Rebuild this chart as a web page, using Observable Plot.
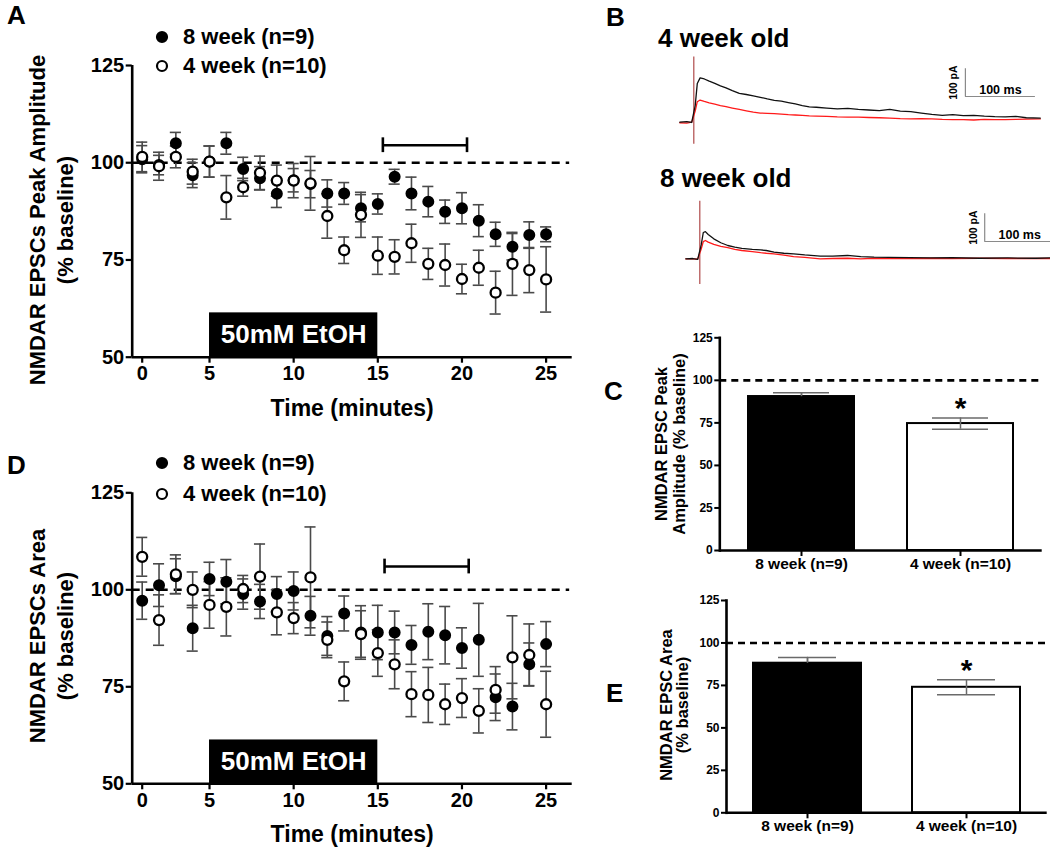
<!DOCTYPE html>
<html><head><meta charset="utf-8">
<script src="https://cdn.jsdelivr.net/npm/d3@7"></script>
<script src="https://cdn.jsdelivr.net/npm/@observablehq/plot@0.6"></script>
<style>
html,body{margin:0;padding:0;background:#fff;overflow:hidden;}
#fig{position:relative;width:1050px;height:847px;font-family:"Liberation Sans",Arial,sans-serif;font-weight:bold;color:#000;overflow:hidden;}
.rot{position:absolute;white-space:nowrap;line-height:1;transform:translate(-50%,-50%) rotate(-90deg);}
.lbl{position:absolute;white-space:nowrap;line-height:1;}
svg{overflow:visible;}
</style></head><body><div id="fig"></div>
<script>
const FONT = '"Liberation Sans", Arial, sans-serif';

// ---------- DATA ----------
const minutes = [1,2,3,4,5,6,7,8,9,10,11,12,13,14,15,16,17,18,19,20,21,22,23,24,25];
const timeTicks = [1,5,10,15,20,25];
const timeTickLabels = ["0","5","10","15","20","25"];
const ethanolMinutes = [5, 15];
const ethanolLabel = "50mM EtOH";
const groups = ["8 week (n=9)", "4 week (n=10)"];

// Panel A: NMDAR EPSC peak amplitude (% baseline)
const amp8wk    = [100.9,99.4,105.0,96.8,100.3,105.0,98.4,96.0,92.0,95.5,94.5,92.1,92.1,88.3,89.4,96.4,92.1,90.0,87.4,88.3,85.1,81.6,78.4,81.4,81.6];
const amp8wkSem = [3.5,2.5,2.8,3.2,4.0,2.8,3.0,3.0,3.5,3.0,3.5,3.5,2.8,3.5,2.6,1.9,4.2,3.9,3.0,4.0,4.1,3.1,3.4,3.4,1.9];
const amp4wk    = [101.5,99.1,101.5,97.7,100.3,91.1,93.7,97.4,95.4,95.4,94.7,86.3,77.5,86.6,76.1,75.8,79.3,74.0,73.7,70.1,73.0,66.6,74.0,72.4,70.0];
const amp4wkSem = [3.8,3.6,2.8,3.2,4.0,5.6,2.3,4.3,4.0,4.4,6.9,5.7,3.4,5.8,4.8,4.4,4.9,4.0,5.4,3.8,4.5,5.5,8.1,5.8,8.4];
const ampBracket = [15.3, 20.3];
const ampBracketLevel = 104.5;

// Panel D: NMDAR EPSC area (% baseline)
const area8wk    = [97.2,101.2,103.5,90.1,102.8,102.1,98.9,97.0,98.9,99.7,93.3,88.1,93.9,89.0,89.0,89.0,85.8,89.2,88.3,85.0,87.1,72.3,69.9,80.8,86.0];
const area8wkSem = [4.8,5.5,4.5,5.9,4.3,5.7,3.9,4.4,4.5,4.9,5.0,5.0,4.5,6.9,7.0,5.5,5.0,7.2,7.4,5.2,9.4,6.0,6.0,5.5,5.8];
const area4wk    = [108.5,92.2,104.0,100.0,96.1,95.6,100.2,103.4,94.2,92.7,103.2,87.1,76.4,88.6,83.7,80.8,73.1,72.9,70.5,72.1,68.8,74.2,82.6,83.2,70.5];
const area4wkSem = [5.0,6.5,5.0,4.6,6.0,7.5,3.5,8.4,5.8,4.0,13.0,4.6,5.0,6.0,6.0,6.3,5.8,7.1,5.2,5.0,5.7,6.0,10.7,8.0,8.5];
const areaBracket = [15.4, 20.4];
const areaBracketLevel = 106;

// Panel C / E: summary bars (% baseline)
const peakMean = [90.4, 74.6];
const peakSem  = [2.3, 3.3];
const areaMean = [88.0, 73.9];
const areaSem  = [3.5, 4.4];

// Panel B: example traces (time in ms from stimulus, current in pA)
const t4wk      = [-20,-10,-3,2,5,9,15,22,30,38,46,55,65,75,85,95,105,115,125,135,145,155,165,175,190,205,220,235,250,265,280,295,310,325,340,355,370,385,400,415,430,445,460,475,495];
const ctrl4wk   = [0,2,-1,60,140,160,156,148,140,131,124,114,104,100,95,90,84,79,76,71,66,60,55,54,51,48,50,46,44,42,46,40,38,33,28,25,27,24,25,22,20,19,21,16,15];
const etoh4wk   = [-2,-3,0,40,74,80,75,70,65,60,56,51,46,41,36,33,32,31,29,27,26,25,23,22,21,19,18,18,17,16,15,13,12,13,12,10,9,9,8,10,9,9,10,11,12];
const t8wk      = [-20,-10,-3,2,5,8,12,20,30,40,50,60,75,87,95,106,120,134,150,172,190,211,230,249,270,300,330,360,400,440,480,500];
const ctrl8wk   = [0,1,-2,50,95,98,88,72,58,48,42,38,34,32,30,24,20,18,14,10,10,12,8,6,5,4,3,4,2,3,2,3];
const etoh8wk   = [0,0,-1,35,62,66,60,52,45,40,34,30,26,22,20,18,13,8,5,0,1,2,0,2,1,1,2,1,2,1,1,1];
const scaleBarPA = 100, scaleBarMS = 100;

// ---------- HELPERS ----------
const fig = document.getElementById("fig");
function place(node, left, top) {
  node.style.position = "absolute";
  node.style.left = left + "px";
  node.style.top = top + "px";
  fig.appendChild(node);
}
function html(cls, text, css) {
  const d = document.createElement("div");
  d.className = cls; d.textContent = text;
  Object.assign(d.style, css);
  fig.appendChild(d);
  return d;
}
const baseStyle = {fontFamily: FONT, fontWeight: "bold", background: "transparent", overflow: "visible", color: "black"};
const series = (vals, sems) => minutes.map((t, i) => ({t, v: vals[i], s: sems[i]}));

function timeCourse(cfg) {
  const f = series(cfg.v8, cfg.s8), o = series(cfg.v4, cfg.s4);
  const xmin = 0.406, xmax = 26.55, dashEnd = 26.4, cap = 0.33;
  const errCol = "#4a4a4a";
  const err = (data) => [
    Plot.ruleX(data, {x: "t", y1: d => d.v - d.s, y2: d => d.v + d.s, stroke: errCol, strokeWidth: 1.6}),
    Plot.ruleY(data, {y: d => d.v + d.s, x1: d => d.t - cap, x2: d => d.t + cap, stroke: errCol, strokeWidth: 1.6}),
    Plot.ruleY(data, {y: d => d.v - d.s, x1: d => d.t - cap, x2: d => d.t + cap, stroke: errCol, strokeWidth: 1.6})
  ];
  return Plot.plot({
    width: 600, height: cfg.height,
    marginLeft: 131.7, marginRight: 28.3, marginTop: cfg.mt, marginBottom: cfg.mb,
    style: baseStyle,
    x: {domain: [xmin, xmax], label: null},
    y: {domain: [50, 125], label: null},
    marks: [
      Plot.rect([ethanolMinutes], {x1: d => d[0], x2: d => d[1], y1: 50, y2: cfg.boxTop, fill: "black"}),
      Plot.text([ethanolLabel], {x: (ethanolMinutes[0] + ethanolMinutes[1]) / 2, y: (50 + cfg.boxTop) / 2, text: d => d, fill: "white", fontSize: 26, lineAnchor: "middle"}),
      Plot.ruleY([100], {x1: xmin, x2: dashEnd, stroke: "black", strokeWidth: 2.6, strokeDasharray: "8,6"}),
      Plot.ruleY([cfg.bracketY], {x1: cfg.bracket[0], x2: cfg.bracket[1], stroke: "black", strokeWidth: 2.6}),
      Plot.ruleX(cfg.bracket, {y1: cfg.bracketY - 1.9, y2: cfg.bracketY + 1.9, stroke: "black", strokeWidth: 2.6}),
      ...err(f), ...err(o),
      Plot.dot(f, {x: "t", y: "v", r: 5, fill: "black", stroke: "black", strokeWidth: 2}),
      Plot.dot(o, {x: "t", y: "v", r: 5, fill: "white", stroke: "black", strokeWidth: 2.3}),
      Plot.ruleX([xmin], {y1: 50, y2: 125, stroke: "black", strokeWidth: 2.6}),
      Plot.ruleY([50], {stroke: "black", strokeWidth: 2.6}),
      Plot.axisY({ticks: [50, 75, 100, 125], tickSize: 6, tickPadding: 2, fontSize: 20, strokeWidth: 2.2, label: null}),
      Plot.axisX({ticks: timeTicks, tickFormat: d => timeTickLabels[timeTicks.indexOf(d)], tickSize: 6, tickPadding: 3, fontSize: 20, strokeWidth: 2.2, label: null}),
      Plot.text(["Time (minutes)"], {frameAnchor: "bottom", dy: 51, text: d => d, fontSize: 23, lineAnchor: "middle"})
    ]
  });
}

function tracePlot(cfg) {
  const ctrl = cfg.t.map((t, i) => ({t, pA: cfg.ctrl[i]}));
  const etoh = cfg.t.map((t, i) => ({t, pA: cfg.etoh[i]}));
  const [bx, by] = cfg.bar;
  return Plot.plot({
    width: 420, height: 120,
    marginLeft: cfg.ml, marginRight: cfg.mr, marginTop: cfg.mt, marginBottom: cfg.mb,
    style: baseStyle,
    x: {domain: [-20, 510], axis: null},
    y: {domain: [-100, 250], axis: null},
    marks: [
      Plot.ruleX([0], {y1: cfg.stim[0], y2: cfg.stim[1], stroke: "#b04a4a", strokeWidth: 1.2}),
      Plot.line(etoh, {x: "t", y: "pA", stroke: "#ff1a1a", strokeWidth: 1.3}),
      Plot.line(ctrl, {x: "t", y: "pA", stroke: "#111", strokeWidth: 1.3}),
      Plot.ruleX([bx], {y1: by, y2: by + scaleBarPA, stroke: "#8a8a8a", strokeWidth: 1.2}),
      Plot.ruleY([by], {x1: bx, x2: bx + scaleBarMS, stroke: "#8a8a8a", strokeWidth: 1.2}),
      Plot.text([`${scaleBarPA} pA`], {x: bx, y: by + scaleBarPA / 2, text: d => d, rotate: -90, dx: -8, fontSize: 10.5, lineAnchor: "bottom"}),
      Plot.text([`${scaleBarMS} ms`], {x: bx + scaleBarMS / 2, y: by, text: d => d, dy: -2, fontSize: 12.5, lineAnchor: "bottom"})
    ]
  });
}

function barPlot(cfg) {
  const data = groups.map((g, i) => ({g, m: cfg.mean[i], s: cfg.sem[i]}));
  const errCol = "#6a6a6a";
  const barFill = (d, i) => i === 0 ? "black" : "white";
  return Plot.plot({
    width: 450, height: cfg.height,
    marginLeft: cfg.ml, marginRight: cfg.mr, marginTop: cfg.mt, marginBottom: cfg.mb,
    style: baseStyle,
    x: {domain: groups, paddingInner: cfg.pi, paddingOuter: cfg.po, label: null},
    y: {domain: [0, 125], label: null},
    marks: [
      Plot.ruleY([100], {stroke: "black", strokeWidth: 2.6, strokeDasharray: "7,5"}),
      Plot.barY(data, {x: "g", y: "m", fill: barFill, stroke: "black", strokeWidth: 2}),
      Plot.ruleX(data, {x: "g", y1: d => d.m - d.s, y2: d => d.m + d.s, stroke: errCol, strokeWidth: 1.5}),
      Plot.tickY(data, {x: "g", y: d => d.m + d.s, stroke: errCol, strokeWidth: 1.5, insetLeft: 25, insetRight: 25}),
      Plot.tickY(data, {x: "g", y: d => d.m - d.s, stroke: errCol, strokeWidth: 1.5, insetLeft: 25, insetRight: 25}),
      Plot.barY(data, {filter: (d, i) => i === 0, x: "g", y: "m", fill: "black", stroke: "black", strokeWidth: 2}),
      Plot.ruleX(data, {filter: (d, i) => i === 0, x: "g", y1: "m", y2: d => d.m + d.s, stroke: errCol, strokeWidth: 1.5}),
      Plot.text(data, {filter: (d, i) => i === 1, x: "g", y: d => d.m + d.s, text: () => "*", fontSize: 30, lineAnchor: "bottom", dy: cfg.starDy}),
      Plot.frame({anchor: "left", stroke: "black", strokeWidth: 2.6}),
      Plot.ruleY([0], {stroke: "black", strokeWidth: 2.6}),
      Plot.axisY({ticks: [0, 25, 50, 75, 100, 125], tickSize: 5, tickPadding: 2, fontSize: 12, strokeWidth: 2, label: null}),
      Plot.axisX({tickSize: 6, tickPadding: 1, fontSize: 15.5, strokeWidth: 2, label: null})
    ]
  });
}

// ---------- PANEL A ----------
place(timeCourse({v8: amp8wk, s8: amp8wkSem, v4: amp4wk, s4: amp4wkSem, height: 430, mt: 65, mb: 73.3,
  bracket: ampBracket, bracketY: ampBracketLevel, boxTop: 61.4}), 0, 0);
// ---------- PANEL D ----------
place(timeCourse({v8: area8wk, s8: area8wkSem, v4: area4wk, s4: area4wkSem, height: 417, mt: 62.3, mb: 63.7,
  bracket: areaBracket, bracketY: areaBracketLevel, boxTop: 61.3}), 0, 430);

// ---------- PANEL B ----------
place(tracePlot({t: t4wk, ctrl: ctrl4wk, etoh: etoh4wk, ml: 39.3, mr: 9.7, mt: 12.45, mb: 10.6,
  stim: [-80, 235], bar: [388, 92.8]}), 640, 40);
place(tracePlot({t: t8wk, ctrl: ctrl8wk, etoh: etoh8wk, ml: 45.3, mr: 3.7, mt: 9.05, mb: 14,
  stim: [-93, 208], bar: [407, 62.5]}), 640, 180);

// ---------- PANEL C / E ----------
place(barPlot({mean: peakMean, sem: peakSem, height: 260, ml: 119.3, mr: 8.3, mt: 17.3, mb: 30, pi: 0.331, po: 0.178, starDy: 0}), 600, 320);
place(barPlot({mean: areaMean, sem: areaSem, height: 267, ml: 126, mr: 3.3, mt: 20, mb: 34.7, pi: 0.32, po: 0.167, starDy: 0}), 600, 580);

// ---------- TEXT: letters, titles, axis titles ----------
html("lbl", "A", {left: "7px", top: "2px", fontSize: "26px"});
html("lbl", "B", {left: "606px", top: "4px", fontSize: "26px"});
html("lbl", "C", {left: "604px", top: "378px", fontSize: "26px"});
html("lbl", "D", {left: "7px", top: "452px", fontSize: "26px"});
html("lbl", "E", {left: "606px", top: "680px", fontSize: "26px"});
html("lbl", "4 week old", {left: "658px", top: "25px", fontSize: "26px"});
html("lbl", "8 week old", {left: "660px", top: "165px", fontSize: "26px"});

html("rot", "NMDAR EPSCs Peak Amplitude", {left: "38px", top: "220px", fontSize: "22px"});
html("rot", "(% baseline)", {left: "66px", top: "220px", fontSize: "22px"});
html("rot", "NMDAR EPSCs Area", {left: "38px", top: "636px", fontSize: "22px"});
html("rot", "(% baseline)", {left: "66px", top: "636px", fontSize: "22px"});
html("rot", "NMDAR EPSC Peak", {left: "661px", top: "444px", fontSize: "16.5px"});
html("rot", "Amplitude (% baseline)", {left: "678.5px", top: "444px", fontSize: "16.5px"});
html("rot", "NMDAR EPSC Area", {left: "666px", top: "705px", fontSize: "16.5px"});
html("rot", "(% baseline)", {left: "682px", top: "705px", fontSize: "16.5px"});

// ---------- LEGENDS ----------
function legend(cx, cys) {
  groups.forEach((g, i) => {
    const cy = cys[i];
    const s = document.createElementNS("http://www.w3.org/2000/svg", "svg");
    s.setAttribute("width", 14); s.setAttribute("height", 14);
    const c = document.createElementNS("http://www.w3.org/2000/svg", "circle");
    c.setAttribute("cx", 7); c.setAttribute("cy", 7); c.setAttribute("r", 5);
    c.setAttribute("fill", i === 0 ? "black" : "white");
    c.setAttribute("stroke", "black"); c.setAttribute("stroke-width", 2.2);
    s.appendChild(c);
    place(s, cx - 7, cy - 7);
    html("lbl", g, {left: (cx + 21) + "px", top: (cy - 11) + "px", fontSize: "22px", lineHeight: "22px"});
  });
}
legend(162, [37, 66]);
legend(162, [463, 494]);
</script></body></html>
